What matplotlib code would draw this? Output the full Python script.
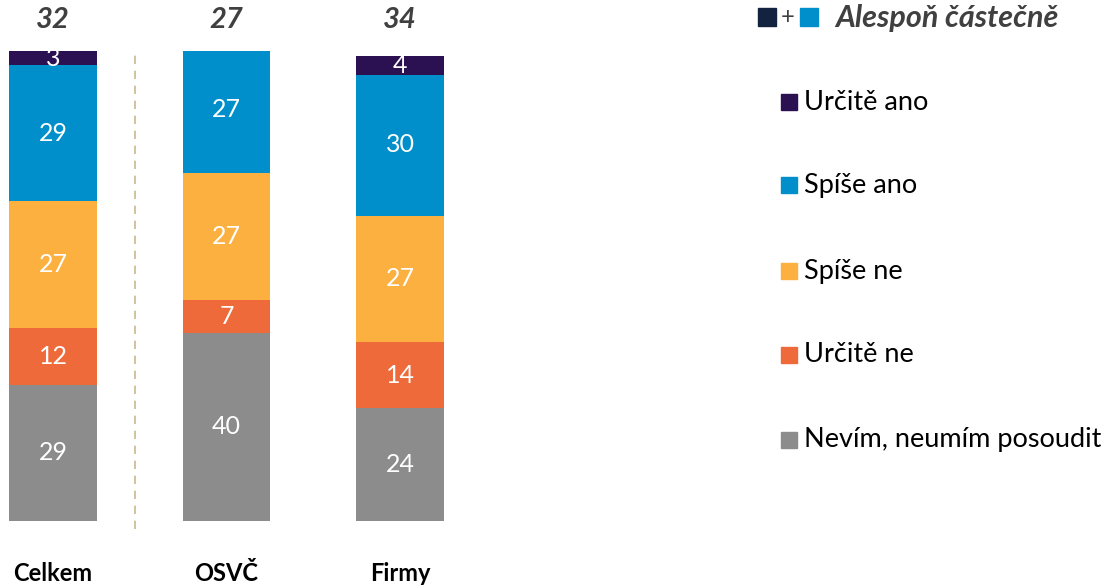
import numpy as np
import matplotlib.pyplot as plt
from matplotlib.patches import Rectangle

plt.rcParams['font.family'] = ['Lato', 'DejaVu Sans']

groups = ['Celkem', 'OSVČ', 'Firmy']
series = ['Nevím, neumím posoudit', 'Určitě ne', 'Spíše ne', 'Spíše ano', 'Určitě ano']
values = {
    'Nevím, neumím posoudit': [29, 40, 24],
    'Určitě ne': [12, 7, 14],
    'Spíše ne': [27, 27, 27],
    'Spíše ano': [29, 27, 30],
    'Určitě ano': [3, 0, 4],
}
colors = {
    'Nevím, neumím posoudit': '#8c8c8c',
    'Určitě ne': '#ee6a3b',
    'Spíše ne': '#fbb040',
    'Spíše ano': '#008fcb',
    'Určitě ano': '#2b1052',
}
at_least = [a + b for a, b in zip(values['Určitě ano'], values['Spíše ano'])]

W, H = 1109, 585
fig = plt.figure(figsize=(W / 100, H / 100), dpi=100)
# axes placed in pixel terms: y 0..100 spans px 521..51
px_unit = 173.5
x0 = -53 / px_unit
ax = fig.add_axes([0, (H - 521) / H, 480 / W, 470 / H])
ax.set_xlim(x0, x0 + 480 / px_unit)
ax.set_ylim(0, 100)
ax.axis('off')

x = np.arange(len(groups))
bottom = np.zeros(len(groups))
for s in series:
    v = np.array(values[s], dtype=float)
    ax.bar(x, v, width=0.507, bottom=bottom, color=colors[s], label=s)
    for xi, b, val in zip(x, bottom, v):
        if val > 0:
            ax.text(xi, b + val / 2, f'{val:.0f}', ha='center', va='center',
                    color='white', fontsize=18)
    bottom += v

for xi, t in zip(x, at_least):
    ax.text(xi, 106.6, str(t), ha='center', va='center', fontsize=21,
            fontweight='bold', fontstyle='italic', color='#404040', clip_on=False)

for xi, g in zip(x, groups):
    ax.text(xi, -11.2, g, ha='center', va='center', fontsize=17,
            fontweight='bold', color='black', clip_on=False)

ax.plot([0.473, 0.473], [-1.7, 100], ls=(0, (5, 4)), color='#c9b98c', lw=1.2,
        clip_on=False)

# legend
leg_order = ['Určitě ano', 'Spíše ano', 'Spíše ne', 'Určitě ne', 'Nevím, neumím posoudit']
leg_y = [102, 185, 271, 355, 440]
for s, yy in zip(leg_order, leg_y):
    fig.patches.append(Rectangle((781 / W, 1 - (yy + 8) / H), 16 / W, 16 / H,
                                 transform=fig.transFigure, color=colors[s]))
    fig.text(804 / W, 1 - yy / H, s, ha='left', va='center', fontsize=19.5, color='black')

# header
fig.patches.append(Rectangle((758 / W, 1 - 26 / H), 18 / W, 18 / H,
                             transform=fig.transFigure, color='#13233f'))
fig.patches.append(Rectangle((800 / W, 1 - 26 / H), 18 / W, 18 / H,
                             transform=fig.transFigure, color='#008fcb'))
fig.text(788 / W, 1 - 18 / H, '+', ha='center', va='center', fontsize=17, color='#404040')
fig.text(835 / W, 1 - 18 / H, 'Alespoň částečně', ha='left', va='center', fontsize=22,
         fontweight='bold', fontstyle='italic', color='#404040')

fig.savefig('out.png', dpi=100)
